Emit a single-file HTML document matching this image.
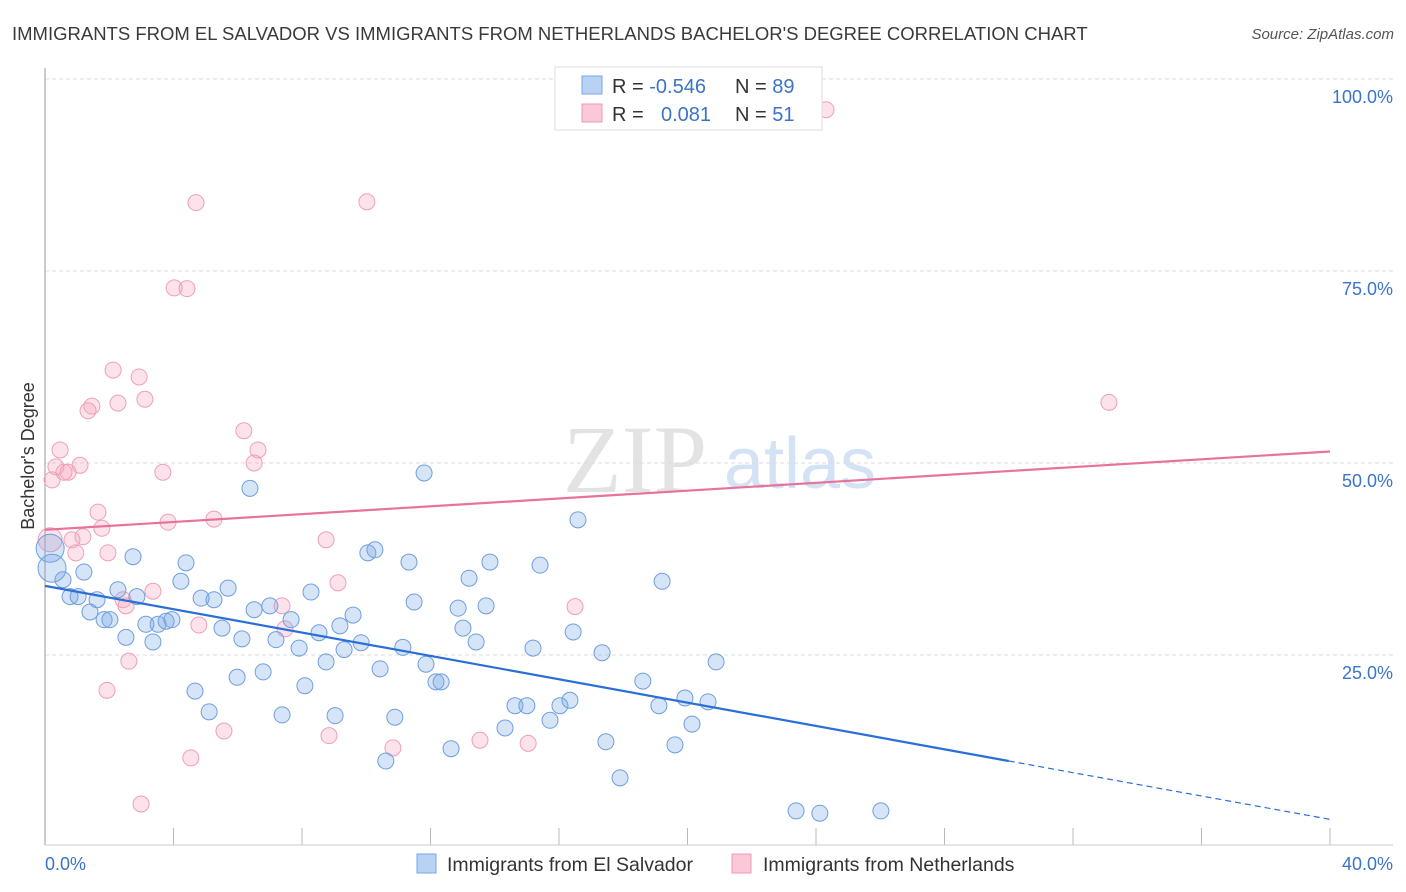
<!DOCTYPE html>
<html><head><meta charset="utf-8"><style>
body{margin:0;width:1406px;height:892px;background:#fff;overflow:hidden;font-family:"Liberation Sans",sans-serif}
svg{position:absolute;left:0;top:0}
</style></head><body>
<svg id="chart" width="1406" height="892">
<text x="12" y="40" font-size="18.5" fill="#3a3a3a">IMMIGRANTS FROM EL SALVADOR VS IMMIGRANTS FROM NETHERLANDS BACHELOR'S DEGREE CORRELATION CHART</text>
<text x="1394" y="39" font-size="15" font-style="italic" fill="#555" text-anchor="end">Source: ZipAtlas.com</text>
<g>
<text x="635" y="492" font-size="96" font-family="Liberation Serif,serif" fill="#e3e3e3" text-anchor="middle">ZIP</text>
<text x="800" y="488" font-size="72" fill="#d3e2f5" text-anchor="middle">atlas</text>
</g>
<g id="grid"></g>
<line x1="45" y1="68" x2="45" y2="845" stroke="#999"/>
<line x1="45" y1="845" x2="1393" y2="845" stroke="#ccc"/>
<text transform="translate(34,456) rotate(-90)" font-size="18" fill="#333" text-anchor="middle">Bachelor's Degree</text>
<text x="45" y="870" font-size="18" fill="#3b73c9">0.0%</text>
<text x="1393" y="870" font-size="18" fill="#3b73c9" text-anchor="end">40.0%</text>
<g id="pts"></g>
<g id="trends"></g>
<g>
<rect x="555" y="67" width="267" height="63" fill="#fff" stroke="#ddd"/>
<rect x="582" y="76" width="20" height="18" fill="#b8d2f4" stroke="#7aa6e6"/>
<rect x="582" y="104" width="20" height="18" fill="#fac8d6" stroke="#ee9ab4"/>
<text x="612" y="93" font-size="20" fill="#333">R = <tspan fill="#3b73c9">-0.546</tspan><tspan x="735">N = </tspan><tspan fill="#3b73c9">89</tspan></text>
<text x="612" y="121" font-size="20" fill="#333">R = <tspan x="661" fill="#3b73c9">0.081</tspan><tspan x="735">N = </tspan><tspan fill="#3b73c9">51</tspan></text>
</g>
<g>
<rect x="417" y="854" width="19" height="19" fill="#b8d2f4" stroke="#7aa6e6"/>
<text x="447" y="871" font-size="19.5" fill="#333">Immigrants from El Salvador</text>
<rect x="732" y="854" width="19" height="19" fill="#fac8d6" stroke="#ee9ab4"/>
<text x="763" y="871" font-size="19.5" fill="#333">Immigrants from Netherlands</text>
</g>
</svg>
<script>
const yTicks=[25,50,75,100];
const yTickLabels=["25.0%","50.0%","75.0%","100.0%"];
const blueX=[0.16,0.22,0.56,0.78,1.03,1.21,1.40,1.62,1.84,2.02,2.27,2.52,2.74,2.86,3.14,3.36,3.52,3.77,3.95,4.23,4.39,4.67,4.86,5.11,5.26,5.51,5.70,5.98,6.13,6.38,6.51,6.79,7.00,7.19,7.38,7.66,7.91,8.09,8.28,8.53,8.75,9.03,9.18,9.31,9.59,9.84,10.05,10.27,10.43,10.61,10.89,11.14,11.33,11.49,11.80,11.86,12.17,12.33,12.64,12.86,13.01,13.20,13.42,13.73,13.85,14.32,14.63,15.00,15.19,15.41,15.72,16.03,16.34,16.59,16.44,17.34,17.46,17.90,18.61,19.11,19.21,19.61,19.92,20.14,20.64,20.89,23.38,24.12,26.02];
const blueY=[38.9,36.3,34.8,32.6,32.6,35.8,30.6,32.2,29.6,29.6,33.5,27.3,37.8,32.6,29.0,26.7,29.0,29.4,29.6,34.6,37.0,20.3,32.4,17.6,32.2,28.5,33.7,22.1,27.1,46.7,30.9,22.8,31.4,27.0,17.2,29.6,25.9,21.0,33.2,27.9,24.1,17.1,28.8,25.7,30.2,26.6,38.3,38.7,23.2,11.2,16.9,26.0,37.1,31.9,48.7,23.8,21.5,21.5,12.8,31.1,28.5,35.0,26.7,31.4,37.1,15.5,18.4,18.4,25.9,36.7,16.5,18.4,19.1,42.6,28.0,25.3,13.7,9.0,21.6,18.4,34.6,13.3,19.4,16.0,18.9,24.1,4.7,4.4,4.7];
const pinkX=[0.16,0.22,0.34,0.47,0.59,0.72,0.84,0.96,1.09,1.18,1.34,1.46,1.65,1.77,1.96,1.93,2.12,2.27,2.43,2.52,2.61,2.93,2.99,3.11,3.36,3.67,3.83,4.02,4.42,4.54,4.70,4.79,5.26,5.57,6.19,6.51,6.63,7.38,7.47,8.75,8.84,9.12,10.02,10.83,13.54,15.04,16.50,24.31,33.12];
const pinkY=[40.0,47.8,49.5,51.7,48.8,48.8,40.0,38.3,49.7,40.4,56.8,57.4,43.6,41.5,38.3,20.4,62.1,57.8,32.2,31.4,24.2,61.2,5.6,58.3,33.3,48.8,42.3,72.8,72.7,11.6,83.9,28.9,42.7,15.1,54.2,50.0,51.7,31.4,28.4,40.0,14.5,34.4,84.0,12.9,13.9,13.5,31.3,96.0,57.9];
const blueTrend=[34.0,-0.76];   // intercept, slope
const pinkTrend=[41.3,0.255];
const blueSolidEnd=30.0;
const NS="http://www.w3.org/2000/svg";
const X=v=>45+v*32.125, Y=v=>847-v*7.68;
function mk(t,a,p){const e=document.createElementNS(NS,t);for(const k in a)e.setAttribute(k,a[k]);p.appendChild(e);return e;}
const grid=document.getElementById('grid');
yTicks.forEach((t,i)=>{
 const l=mk('line',{x1:45,x2:1393,y1:Y(t),y2:Y(t),stroke:'#ddd','stroke-dasharray':'4,3'},grid);
 
 
 const tx=mk('text',{x:1393,y:Y(t)+24,'font-size':18,fill:'#3b73c9','text-anchor':'end'},grid);
 tx.textContent=yTickLabels[i];
 
 
});
for(let i=1;i<=10;i++){
 const l=mk('line',{x1:X(i*4),x2:X(i*4),y1:828,y2:845,stroke:'#bbb'},grid);
 
 
}
const pts=document.getElementById('pts');
pinkX.forEach((x,i)=>{
 const r=(i<1)?12:8;
 const c=mk('circle',{cx:X(x),cy:Y(pinkY[i]),r:r,fill:'rgba(244,160,185,0.3)',stroke:'#eea0b8','stroke-width':1},pts);
 
 
});
blueX.forEach((x,i)=>{
 const r=(i<2)?14:8;
 const c=mk('circle',{cx:X(x),cy:Y(blueY[i]),r:r,fill:'rgba(120,165,230,0.3)',stroke:'#6e9fe0','stroke-width':1},pts);
 
 
});
const tr=document.getElementById('trends');
const f=(p,x)=>p[0]+p[1]*x;
let l=mk('line',{x1:X(0),y1:Y(f(blueTrend,0)),x2:X(blueSolidEnd),y2:Y(f(blueTrend,blueSolidEnd)),stroke:'#2a6fd6','stroke-width':2.2},tr);


l=mk('line',{x1:X(blueSolidEnd),y1:Y(f(blueTrend,blueSolidEnd)),x2:X(40),y2:Y(f(blueTrend,40)),stroke:'#2a6fd6','stroke-width':1.2,'stroke-dasharray':'6,4'},tr);


l=mk('line',{x1:X(0),y1:Y(f(pinkTrend,0)),x2:X(40),y2:Y(f(pinkTrend,40)),stroke:'#e8739a','stroke-width':2.2},tr);


</script>
</body></html>
